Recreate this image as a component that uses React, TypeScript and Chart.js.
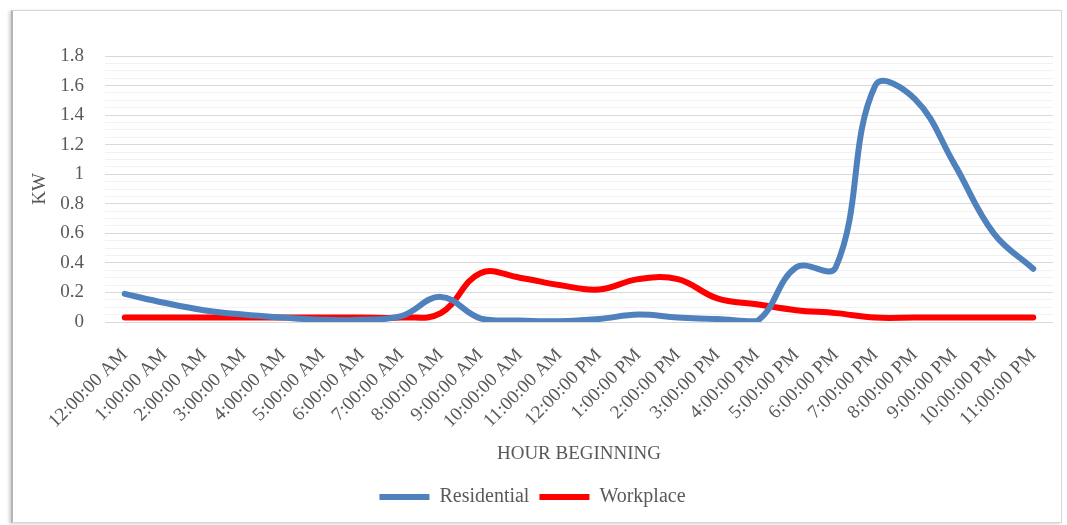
import React, { useEffect, useRef } from 'react';
import { Chart, registerables } from 'chart.js';

Chart.register(...registerables);

const hours = [
  '12:00:00 AM', '1:00:00 AM', '2:00:00 AM', '3:00:00 AM', '4:00:00 AM', '5:00:00 AM',
  '6:00:00 AM', '7:00:00 AM', '8:00:00 AM', '9:00:00 AM', '10:00:00 AM', '11:00:00 AM',
  '12:00:00 PM', '1:00:00 PM', '2:00:00 PM', '3:00:00 PM', '4:00:00 PM', '5:00:00 PM',
  '6:00:00 PM', '7:00:00 PM', '8:00:00 PM', '9:00:00 PM', '10:00:00 PM', '11:00:00 PM',
];

const residential = [
  0.19, 0.13, 0.08, 0.05, 0.03, 0.015, 0.015, 0.04, 0.17, 0.025, 0.01, 0.005,
  0.02, 0.05, 0.03, 0.02, 0.005, 0.37, 0.37, 1.6, 1.51, 1.07, 0.6, 0.36,
];

const workplace = [
  0.03, 0.03, 0.03, 0.03, 0.03, 0.03, 0.03, 0.03, 0.06, 0.33, 0.3, 0.25,
  0.22, 0.29, 0.29, 0.16, 0.12, 0.08, 0.06, 0.03, 0.03, 0.03, 0.03, 0.03,
];

const yMin = 0;
const yMax = 1.8;
const yMinorStep = 0.05;

const TEXT = '#595959';
const FONT_FAMILY = '"Liberation Serif", "Times New Roman", serif';

const isMajor = (v: number) => Math.round(v * 100) % 20 === 0;

export default function App() {
  const ref = useRef<HTMLCanvasElement>(null);

  useEffect(() => {
    const chart = new Chart(ref.current as HTMLCanvasElement, {
      type: 'line',
      data: {
        labels: hours,
        datasets: [
          {
            label: 'Residential',
            data: residential,
            borderColor: '#4f81bd',
            backgroundColor: '#4f81bd',
            borderWidth: 6,
            tension: 0.4,
            pointRadius: 0,
            borderCapStyle: 'round',
            borderJoinStyle: 'round',
          },
          {
            label: 'Workplace',
            data: workplace,
            borderColor: '#ff0000',
            backgroundColor: '#ff0000',
            borderWidth: 6,
            tension: 0.4,
            pointRadius: 0,
            borderCapStyle: 'round',
            borderJoinStyle: 'round',
          },
        ],
      },
      options: {
        responsive: false,
        animation: false,
        layout: { padding: { left: 12, right: 14, top: 56, bottom: 8 } },
        scales: {
          x: {
            offset: true,
            grid: { display: false },
            border: { display: false },
            ticks: {
              autoSkip: false,
              maxRotation: 45,
              minRotation: 45,
              padding: 14,
              color: TEXT,
              font: { family: FONT_FAMILY, size: 19 },
            },
            title: {
              display: true,
              text: 'HOUR BEGINNING',
              color: TEXT,
              font: { family: FONT_FAMILY, size: 19 },
              padding: { top: 0, bottom: 12 },
            },
            afterFit: (s: any) => {
              s.height = 155;
            },
          },
          y: {
            min: yMin,
            max: yMax,
            ticks: {
              stepSize: yMinorStep,
              autoSkip: false,
              padding: 21,
              color: TEXT,
              font: { family: FONT_FAMILY, size: 19 },
              callback: (v: any) => (isMajor(Number(v)) ? String(Math.round(Number(v) * 10) / 10) : ''),
            },
            grid: {
              drawTicks: false,
              color: (ctx: any) => (isMajor(ctx.tick.value) ? '#d9d9d9' : '#f1f1f1'),
              lineWidth: 1,
            },
            border: { display: false },
            title: {
              display: true,
              text: 'KW',
              color: TEXT,
              font: { family: FONT_FAMILY, size: 19 },
              padding: { top: 17, bottom: 0 },
            },
            afterFit: (s: any) => {
              s.width = 93;
            },
          },
        },
        plugins: {
          legend: {
            position: 'bottom',
            labels: {
              boxWidth: 50,
              boxHeight: 6,
              padding: 10,
              color: TEXT,
              font: { family: FONT_FAMILY, size: 20 },
              generateLabels: (c: any) =>
                Chart.defaults.plugins.legend.labels.generateLabels(c).map((l: any) => ({
                  ...l,
                  lineWidth: 0,
                  strokeStyle: 'transparent',
                })),
            },
          },
          tooltip: { enabled: false },
        },
      },
    });
    return () => chart.destroy();
  }, []);

  return (
    <div style={{ position: 'absolute', left: 0, top: 0, width: 1067, height: 525, background: '#fff' }}>
      <div
        style={{
          position: 'absolute',
          left: 11,
          top: 10,
          width: 1048,
          height: 511,
          border: '1px solid #d6d6d6',
          borderLeft: '2px solid #b5b5b5',
          boxShadow: '-2px 1px 3px rgba(0,0,0,0.18)',
          background: '#fff',
        }}
      />
      <canvas
        ref={ref}
        width={1067}
        height={525}
        style={{ position: 'absolute', left: 0, top: 0 }}
      />
    </div>
  );
}
